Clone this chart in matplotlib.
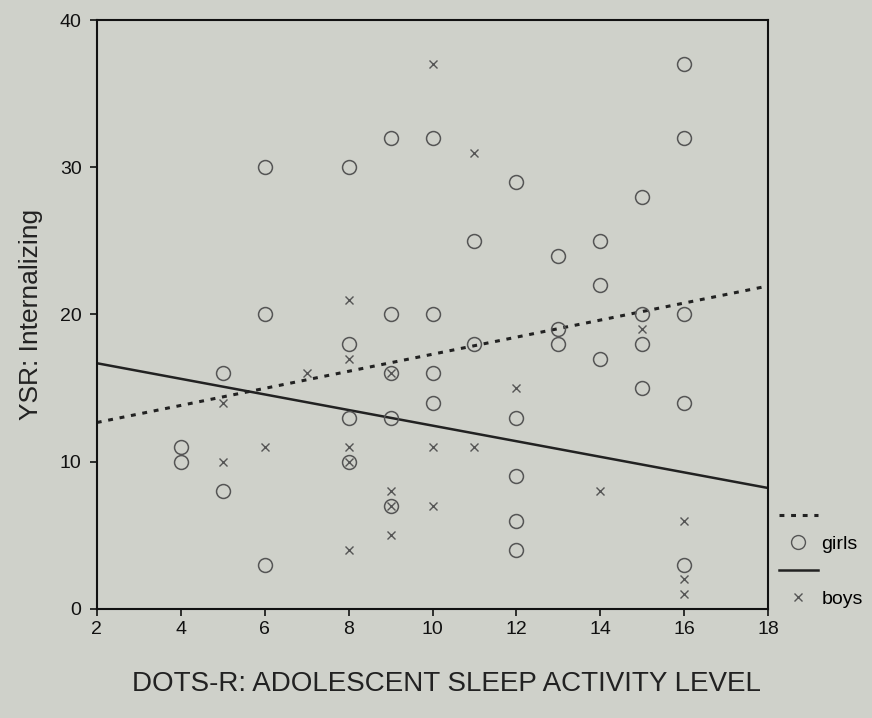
"""
Scatter of adolescent sleep activity level against YSR internalizing,
girls and boys with their regression lines.
"""
import matplotlib
matplotlib.use('Agg')
import matplotlib.pyplot as plt
from matplotlib.lines import Line2D
import numpy as np

plt.rcParams['font.family'] = ['Liberation Sans', 'DejaVu Sans']

# girls (open circles)
girls_x = [4, 4, 5, 5, 6, 6, 6, 8, 8, 8, 8, 9, 9, 9, 9, 9, 10, 10, 10, 10,
           11, 11, 12, 12, 12, 12, 12, 13, 13, 13, 14, 14, 14, 15, 15, 15, 15,
           16, 16, 16, 16, 16]
girls_y = [11, 10, 16, 8, 30, 20, 3, 30, 18, 13, 10, 32, 20, 16, 13, 7, 32, 20, 16, 14,
           25, 18, 29, 13, 9, 6, 4, 24, 19, 18, 25, 22, 17, 28, 20, 18, 15,
           37, 32, 20, 14, 3]

# boys (crosses)
boys_x = [5, 5, 6, 7, 8, 8, 8, 8, 8, 9, 9, 9, 9, 10, 10, 10, 11, 11, 12, 14,
          15, 16, 16, 16]
boys_y = [14, 10, 11, 16, 21, 17, 11, 10, 4, 16, 8, 7, 5, 37, 11, 7, 31, 11, 15, 8,
          19, 6, 2, 1]

# regression lines: intercept, slope
girls_fit = (11.5, 0.58)
boys_fit = (17.75, -0.53)

x_ticks = [2, 4, 6, 8, 10, 12, 14, 16, 18]
y_ticks = [0, 10, 20, 30, 40]

bg = '#cfd1ca'
fig = plt.figure(figsize=(8.72, 7.18), dpi=100, facecolor=bg)
ax = fig.add_axes([0.111, 0.152, 0.770, 0.820], facecolor=bg)

xs = np.array([2, 18])
ax.plot(xs, girls_fit[0] + girls_fit[1] * xs, color='#222222', lw=2.2,
        linestyle=(0, (1.6, 2.2)))
ax.plot(xs, boys_fit[0] + boys_fit[1] * xs, color='#222222', lw=1.8)

ax.plot(girls_x, girls_y, 'o', ms=10, mfc='none', mec='#555555', mew=1.1)
ax.plot(boys_x, boys_y, 'x', ms=6, mec='#555555', mew=1.0)

ax.set_xlim(2, 18)
ax.set_ylim(0, 40)
ax.set_xticks(x_ticks)
ax.set_yticks(y_ticks)
ax.tick_params(direction='out', length=5, width=1.2, labelsize=14,
               colors='#111111')
ax.tick_params(axis='y', pad=6)
for s in ax.spines.values():
    s.set_linewidth(1.5)
    s.set_color('#111111')

ax.set_ylabel('YSR: Internalizing', fontsize=19, color='#222222', labelpad=12)
ax.set_xlabel('DOTS-R: ADOLESCENT SLEEP ACTIVITY LEVEL', fontsize=20,
              color='#222222', labelpad=24)
ax.xaxis.label.set_x(0.52)

handles = [
    Line2D([], [], color='#222222', lw=2.2, linestyle=(0, (1.6, 2.2))),
    Line2D([], [], marker='o', ls='none', ms=10, mfc='none', mec='#555555'),
    Line2D([], [], color='#222222', lw=1.8),
    Line2D([], [], marker='x', ls='none', ms=6, mec='#555555'),
]
fig.legend(handles, ['', 'girls', '', 'boys'], loc='upper left',
           bbox_to_anchor=(0.893, 0.292), frameon=False, fontsize=14,
           handlelength=2.0, handletextpad=0.2, labelspacing=0.5,
           borderaxespad=0, borderpad=0)

plt.savefig('out.png', dpi=100, facecolor=bg)
